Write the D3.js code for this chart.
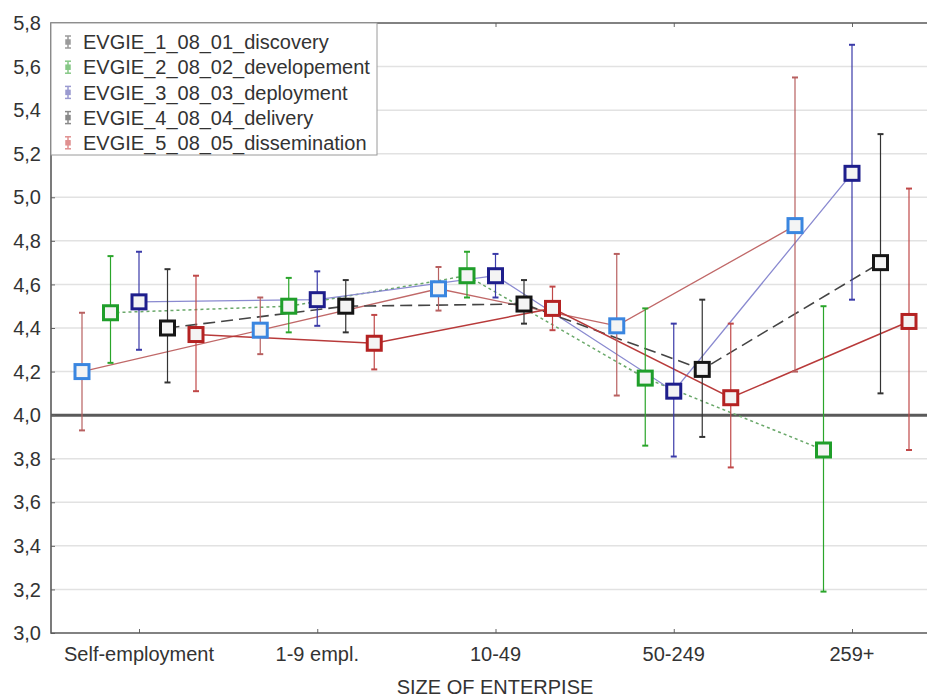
<!DOCTYPE html>
<html>
<head>
<meta charset="utf-8">
<script src="https://cdnjs.cloudflare.com/ajax/libs/d3/7.8.5/d3.min.js"></script>
<style>
  html, body { margin: 0; padding: 0; background: #fff; }
  svg { display: block; font-family: "Liberation Sans", Arial, sans-serif; }
</style>
</head>
<body>
<svg id="chart" width="927" height="697"></svg>
<script>
// ---- data ----
const categories = ["Self-employment", "1-9 empl.", "10-49", "50-249", "259+"];
const seriesNames = ["EVGIE_1_08_01_discovery", "EVGIE_2_08_02_developement", "EVGIE_3_08_03_deployment", "EVGIE_4_08_04_delivery", "EVGIE_5_08_05_dissemination"];

const discoveryMean = [4.20, 4.39, 4.58, 4.41, 4.87];
const discoveryHigh = [4.47, 4.54, 4.68, 4.74, 5.55];
const discoveryLow  = [3.93, 4.28, 4.48, 4.09, 4.20];

const developementMean = [4.47, 4.50, 4.64, 4.17, 3.84];
const developementHigh = [4.73, 4.63, 4.75, 4.49, 4.50];
const developementLow  = [4.24, 4.38, 4.54, 3.86, 3.19];

const deploymentMean = [4.52, 4.53, 4.64, 4.11, 5.11];
const deploymentHigh = [4.75, 4.66, 4.74, 4.42, 5.70];
const deploymentLow  = [4.30, 4.41, 4.54, 3.81, 4.53];

const deliveryMean = [4.40, 4.50, 4.51, 4.21, 4.70];
const deliveryHigh = [4.67, 4.62, 4.62, 4.53, 5.29];
const deliveryLow  = [4.15, 4.38, 4.42, 3.90, 4.10];

const disseminationMean = [4.37, 4.33, 4.49, 4.08, 4.43];
const disseminationHigh = [4.64, 4.46, 4.59, 4.42, 5.04];
const disseminationLow  = [4.11, 4.21, 4.39, 3.76, 3.84];

const yTicks = [3.0, 3.2, 3.4, 3.6, 3.8, 4.0, 4.2, 4.4, 4.6, 4.8, 5.0, 5.2, 5.4, 5.6, 5.8];
const xTitle = "SIZE OF ENTERPISE";

// ---- styles ----
const styles = [
  { marker: "#3a86e0", line: "#c06868", whisker: "#b86060", dash: null, lw: 1.3, icon: "#9a9a9a" },
  { marker: "#1f9e2a", line: "#6aa86a", whisker: "#2aa52a", dash: "3,3", lw: 1.5, icon: "#86c886" },
  { marker: "#1e1e8c", line: "#8a8ad0", whisker: "#3a3aa8", dash: null, lw: 1.3, icon: "#9a9ad0" },
  { marker: "#151515", line: "#444", whisker: "#333", dash: "12,6", lw: 1.6, icon: "#8a8a8a" },
  { marker: "#b42222", line: "#b83a3a", whisker: "#c04848", dash: null, lw: 1.5, icon: "#e09090" }
];

const series = [
  { name: seriesNames[0], mean: discoveryMean, hi: discoveryHigh, lo: discoveryLow },
  { name: seriesNames[1], mean: developementMean, hi: developementHigh, lo: developementLow },
  { name: seriesNames[2], mean: deploymentMean, hi: deploymentHigh, lo: deploymentLow },
  { name: seriesNames[3], mean: deliveryMean, hi: deliveryHigh, lo: deliveryLow },
  { name: seriesNames[4], mean: disseminationMean, hi: disseminationHigh, lo: disseminationLow }
];

// ---- layout ----
const svg = d3.select("#chart");
const pLeft = 51, pRight = 927, pTop = 23, pBottom = 633;
const fs = 20;

const x = d3.scalePoint().domain(categories).range([139, 852]);
const off = d3.scaleLinear().domain([0, 4]).range([-57, 57]);
const y = d3.scaleLinear().domain([3.0, 5.8]).range([pBottom, pTop]);
const fmt = v => d3.format(".1f")(v).replace(".", ",");

// grid lines
svg.append("g").selectAll("line").data(yTicks.filter(t => t !== 3.0 && t !== 5.8 && t !== 4.0))
  .join("line")
  .attr("x1", pLeft).attr("x2", pRight)
  .attr("y1", d => y(d)).attr("y2", d => y(d))
  .attr("stroke", "#e2e2e2").attr("stroke-width", 1.5);

// reference line at 4.0
svg.append("line")
  .attr("x1", pLeft).attr("x2", pRight)
  .attr("y1", y(4.0)).attr("y2", y(4.0))
  .attr("stroke", "#5a5a5a").attr("stroke-width", 3);

// y axis
const yAxis = d3.axisRight(y).tickValues(yTicks).tickSize(4).tickFormat("");
const gy = svg.append("g").attr("transform", `translate(${pLeft},0)`).call(yAxis);
gy.select(".domain").remove();
gy.selectAll(".tick line").attr("stroke", "#666");
svg.append("g").selectAll("text").data(yTicks).join("text")
  .attr("x", 41).attr("y", d => y(d)).attr("dy", "0.36em")
  .attr("text-anchor", "end").attr("font-size", fs).attr("fill", "#333")
  .text(fmt);

// x axis
const xAxis = d3.axisTop(x).tickSize(4).tickFormat("");
const gx = svg.append("g").attr("transform", `translate(0,${pBottom})`).call(xAxis);
gx.select(".domain").remove();
gx.selectAll(".tick line").attr("stroke", "#666");
const gxt = svg.append("g").attr("transform", `translate(0,${pTop})`).call(d3.axisBottom(x).tickSize(4).tickFormat(""));
gxt.select(".domain").remove();
gxt.selectAll(".tick line").attr("stroke", "#666");

svg.append("g").selectAll("text").data(categories).join("text")
  .attr("x", d => x(d)).attr("y", 661)
  .attr("text-anchor", "middle").attr("font-size", fs).attr("fill", "#333")
  .text(d => d);

svg.append("text").attr("x", 495).attr("y", 694)
  .attr("text-anchor", "middle").attr("font-size", fs).attr("fill", "#333")
  .text(xTitle);

// frame
svg.append("path")
  .attr("d", `M${pRight},${pTop}H${pLeft}V${pBottom}H${pRight}`)
  .attr("fill", "none").attr("stroke", "#5a5a5a").attr("stroke-width", 1.6);

// series lines
const lineGen = d3.line().x(d => d.x).y(d => y(d.v));
series.forEach((s, i) => {
  const pts = categories.map((c, j) => ({ x: x(c) + off(i), v: s.mean[j] }));
  svg.append("path").datum(pts).attr("d", lineGen)
    .attr("fill", "none").attr("stroke", styles[i].line)
    .attr("stroke-width", styles[i].lw)
    .attr("stroke-dasharray", styles[i].dash);
});

// whiskers
series.forEach((s, i) => {
  const g = svg.append("g").attr("stroke", styles[i].whisker).attr("stroke-width", 1.2);
  categories.forEach((c, j) => {
    const cx = x(c) + off(i);
    g.append("line").attr("x1", cx).attr("x2", cx).attr("y1", y(s.hi[j])).attr("y2", y(s.lo[j]));
    g.append("line").attr("x1", cx - 3).attr("x2", cx + 3).attr("y1", y(s.hi[j])).attr("y2", y(s.hi[j])).attr("stroke-width", 2);
    g.append("line").attr("x1", cx - 3).attr("x2", cx + 3).attr("y1", y(s.lo[j])).attr("y2", y(s.lo[j])).attr("stroke-width", 2);
  });
});

// markers
series.forEach((s, i) => {
  svg.append("g").selectAll("rect").data(s.mean).join("rect")
    .attr("x", (d, j) => x(categories[j]) + off(i) - 7)
    .attr("y", d => y(d) - 7)
    .attr("width", 14).attr("height", 14)
    .attr("fill", "#f4f4f4")
    .attr("stroke", styles[i].marker).attr("stroke-width", 3);
});

// legend
const lg = svg.append("g");
lg.append("rect").attr("x", pLeft).attr("y", pTop).attr("width", 326).attr("height", 132)
  .attr("fill", "#fff").attr("stroke", "#9a9a9a").attr("stroke-width", 1);
seriesNames.forEach((n, i) => {
  const cy = 42 + i * 25.2;
  const ig = lg.append("g").attr("stroke", styles[i].icon).attr("stroke-width", 1.5);
  ig.append("line").attr("x1", 68).attr("x2", 68).attr("y1", cy - 6).attr("y2", cy + 6);
  ig.append("line").attr("x1", 65).attr("x2", 71).attr("y1", cy - 6).attr("y2", cy - 6);
  ig.append("line").attr("x1", 65).attr("x2", 71).attr("y1", cy + 6).attr("y2", cy + 6);
  ig.append("rect").attr("x", 66).attr("y", cy - 2).attr("width", 4).attr("height", 4).attr("fill", styles[i].icon);
  lg.append("text").attr("x", 83).attr("y", cy).attr("dy", "0.36em")
    .attr("font-size", fs).attr("fill", "#333").text(n);
});
</script>
</body>
</html>
